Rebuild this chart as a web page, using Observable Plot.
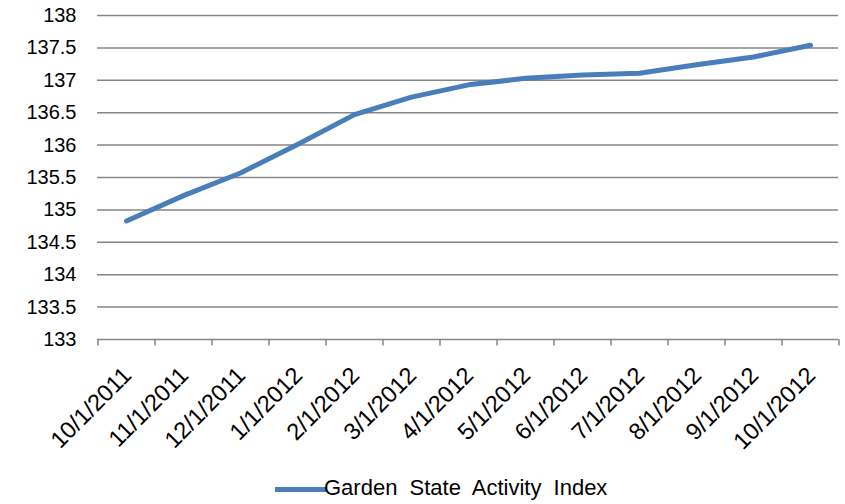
<!DOCTYPE html>
<html>
<head>
<meta charset="utf-8">
<script src="https://cdn.jsdelivr.net/npm/d3@7"></script>
<script src="https://cdn.jsdelivr.net/npm/@observablehq/plot@0.6"></script>
<style>
  html, body { margin: 0; padding: 0; background: #fff; }
  #chart { width: 845px; }
  #legend { height: 34px; position: relative; font-family: "Liberation Sans", Arial, sans-serif; font-size: 22px; color: #000; }
  #legend .sw { position: absolute; left: 275px; top: 17px; width: 52px; height: 5px; background: #4a7ebb; }
  #legend .lb { position: absolute; left: 324px; top: 6px; line-height: 24px; word-spacing: 6px; white-space: nowrap; }
</style>
</head>
<body>
<div id="chart"></div>
<div id="legend"><div class="sw"></div><div class="lb">Garden State Activity Index</div></div>
<script>
const dates = ["10/1/2011","11/1/2011","12/1/2011","1/1/2012","2/1/2012","3/1/2012","4/1/2012","5/1/2012","6/1/2012","7/1/2012","8/1/2012","9/1/2012","10/1/2012"];
const values = [134.83, 135.22, 135.57, 136.01, 136.47, 136.74, 136.93, 137.03, 137.08, 137.11, 137.24, 137.36, 137.54];
const yTicks = [133, 133.5, 134, 134.5, 135, 135.5, 136, 136.5, 137, 137.5, 138];
const seriesName = "Garden State Activity Index";

const data = dates.map((d, i) => ({date: d, value: values[i]}));
const W = 845, H = 470, mL = 97, mR = 7, mT = 15, mB = 131;
const step = (W - mL - mR) / dates.length;
const grey = "#868686";

const chart = Plot.plot({
  width: W, height: H,
  marginLeft: mL, marginRight: mR, marginTop: mT, marginBottom: mB,
  style: {fontFamily: "'Liberation Sans', Arial, sans-serif", background: "#fff", color: "#000"},
  x: {type: "point", domain: dates, padding: 0.5, axis: null},
  y: {domain: [133, 138], axis: null},
  marks: [
    Plot.ruleY(yTicks, {stroke: grey, strokeWidth: 1.5}),
    Plot.ruleX(dates, {x: d => d, dx: -step / 2, y1: 133, y2: 132.9, stroke: grey, strokeWidth: 1.5}),
    Plot.ruleX([dates[dates.length - 1]], {x: d => d, dx: step / 2, y1: 133, y2: 132.9, stroke: grey, strokeWidth: 1.5}),
    Plot.axisY({ticks: yTicks, tickSize: 0, tickPadding: 21, tickFormat: d => String(d), fontSize: 20, label: null}),
    Plot.text(dates, {x: d => d, y: 133, text: d => d, rotate: -45, textAnchor: "end", lineAnchor: "middle", dx: 1, dy: 32, fontSize: 23.5, fill: "#000"}),
    Plot.line(data, {x: "date", y: "value", stroke: "#4a7ebb", strokeWidth: 5, strokeLinecap: "round", strokeLinejoin: "round"})
  ]
});
document.getElementById("chart").appendChild(chart);
</script>
</body>
</html>
